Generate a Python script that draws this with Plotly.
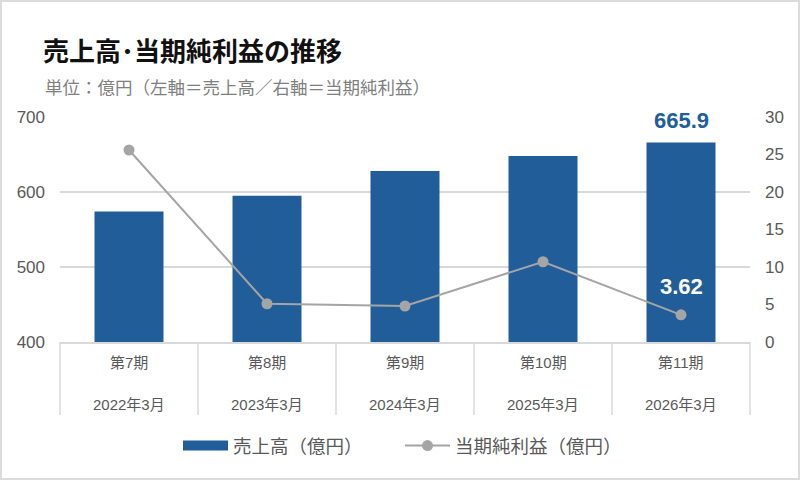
import plotly.graph_objects as go

periods = ["第7期", "第8期", "第9期", "第10期", "第11期"]
dates = ["2022年3月", "2023年3月", "2024年3月", "2025年3月", "2026年3月"]
sales = [574, 595, 628, 648, 665.9]
profit = [25.6, 5.1, 4.8, 10.7, 3.62]
sales_name = "売上高（億円）"
profit_name = "当期純利益（億円）"
title_text = "売上高･当期純利益の推移"
subtitle_text = "単位：億円（左軸＝売上高／右軸＝当期純利益）"

BLUE = "#215E99"
GRAY = "#A5A5A5"
TXT = "#595959"
GRID = "#D9D9D9"
FONT = "Liberation Sans, Arial, Noto Sans CJK JP, sans-serif"

W, H = 800, 480
ML, MR, MT, MB = 60, 50, 117, 138
PW, PH = W - ML - MR, H - MT - MB

def px_y(py):
    return (H - MB - py) / PH

def px_x(px):
    return (px - ML) / PW

fig = go.Figure()
# legend proxy for the bars (wide rectangle symbol)
fig.add_trace(go.Scatter(x=[None], y=[None], mode="lines", name=sales_name,
                         line=dict(color=BLUE, width=11), showlegend=True))
fig.add_trace(go.Bar(x=periods, y=sales, marker=dict(color=BLUE, line=dict(width=0)),
                     width=0.5, showlegend=False, name=sales_name))
fig.add_trace(go.Scatter(x=periods, y=profit, yaxis="y2", mode="lines+markers",
                         name=profit_name, line=dict(color=GRAY, width=2),
                         marker=dict(color=GRAY, size=11)))

annotations = []
# subtitle
annotations.append(dict(text=subtitle_text, xref="paper", yref="paper",
                        x=px_x(43), y=px_y(88), xanchor="left", yanchor="middle",
                        showarrow=False, font=dict(size=17.5, color="#7F7F7F", family=FONT)))
# category table labels
for p, d in zip(periods, dates):
    annotations.append(dict(text=p, x=p, xref="x", yref="paper", y=px_y(362),
                            showarrow=False, yanchor="middle",
                            font=dict(size=15, color=TXT, family=FONT)))
    annotations.append(dict(text=d, x=p, xref="x", yref="paper", y=px_y(404),
                            showarrow=False, yanchor="middle",
                            font=dict(size=15, color=TXT, family=FONT)))
# value labels
annotations.append(dict(text=f"{sales[-1]:.1f}", x=periods[-1], y=sales[-1], xref="x", yref="y",
                        showarrow=False, yanchor="middle", yshift=22,
                        font=dict(size=22, color=BLUE, family=FONT, weight="bold")))
annotations.append(dict(text=f"{profit[-1]:.2f}", x=periods[-1], y=profit[-1], xref="x", yref="y2",
                        showarrow=False, yanchor="middle", yshift=28,
                        font=dict(size=22, color="white", family=FONT, weight="bold")))

shapes = []
n = len(periods)
for k in range(n + 1):
    shapes.append(dict(type="line", xref="paper", yref="paper", x0=k / n, x1=k / n,
                       y0=0, y1=px_y(415), line=dict(color=GRID, width=1.5), layer="below"))
# outer frame
shapes.append(dict(type="rect", xref="paper", yref="paper",
                   x0=px_x(1), x1=px_x(W - 1), y0=px_y(H - 1), y1=px_y(1),
                   line=dict(color="#DCDCDC", width=2)))

fig.update_layout(
    width=W, height=H, autosize=False,
    margin=dict(l=ML, r=MR, t=MT, b=MB, pad=0, autoexpand=False),
    paper_bgcolor="white", plot_bgcolor="white",
    font=dict(family=FONT, color=TXT),
    title=dict(text=title_text, x=43 / W, xanchor="left", xref="container",
               y=1 - 52 / H, yanchor="middle", yref="container",
               font=dict(size=26, color="#111111", family="Noto Sans CJK JP, sans-serif", weight="bold")),
    xaxis=dict(type="category", showticklabels=False, showgrid=False, showline=True,
               linecolor=GRID, linewidth=1.5, range=[-0.5, n - 0.5], ticks="", zeroline=False),
    yaxis=dict(range=[400, 700], dtick=100, showgrid=True, gridcolor=GRID, gridwidth=1.5,
               zeroline=False, showline=False, ticks="", ticklabelstandoff=14,
               tickfont=dict(size=17, color=TXT, family=FONT)),
    yaxis2=dict(range=[0, 30], dtick=5, overlaying="y", side="right", showgrid=False,
                zeroline=False, showline=False, ticks="", ticklabelstandoff=14,
                tickfont=dict(size=17, color=TXT, family=FONT)),
    legend=dict(orientation="h", x=0.5, xanchor="center", xref="container",
                y=1 - 446 / H, yanchor="middle", yref="container", itemwidth=45,
                entrywidth=162, entrywidthmode="pixels",
                font=dict(size=18.5, color=TXT, family=FONT), traceorder="normal",
                bgcolor="rgba(0,0,0,0)"),
    annotations=annotations, shapes=shapes, bargap=0.5,
)

fig.write_html("out.html")
